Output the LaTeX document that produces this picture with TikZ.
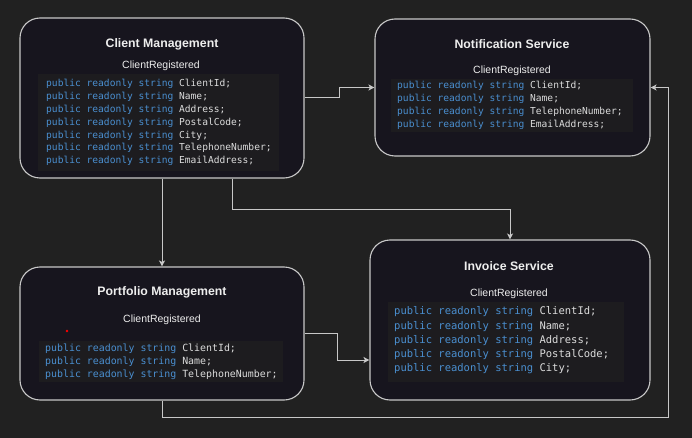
\documentclass[tikz,border=0pt]{standalone}
\usepackage{fontspec}
\setmainfont{Liberation Sans}
\newfontfamily\codefont{DejaVu Sans Mono}
\usetikzlibrary{arrows.meta,calc}
\definecolor{bgc}{HTML}{212121}
\definecolor{boxfill}{HTML}{17151E}
\definecolor{boxline}{HTML}{C8C8C8}
\definecolor{codebg}{HTML}{1D1C1F}
\definecolor{kwc}{HTML}{4A8FD0}
\definecolor{idc}{HTML}{DCDCDC}
\definecolor{txc}{HTML}{EEEEEE}
\newcommand\pubro{\textcolor{kwc}{public readonly string}}
\tikzset{
  svc/.style={draw=boxline, line width=1.1pt, fill=boxfill, rounded corners=20pt, inner sep=0pt},
  ttl/.style={text=txc, font=\bfseries\fontsize{12.3}{14}\selectfont, inner sep=0pt},
  sub/.style={text=txc, font=\fontsize{10.5}{12}\selectfont, inner sep=0pt},
  codebox/.style={fill=codebg, draw=none, inner sep=0pt},
  codeline/.style={text=idc, inner sep=0pt, anchor=base west},
  conn/.style={draw=boxline, line width=1pt, -{Stealth[length=6pt,width=6pt,inset=1.5pt]}},
}
\begin{document}
\begin{tikzpicture}[x=1pt,y=-1pt]
\useasboundingbox[fill=bgc] (0,0) rectangle (692,438);

% Client Management
\node[svc, minimum width=284pt, minimum height=160pt] (cm) at (162,98) {};
\node[ttl] (cmT) at (162,44) {Client Management};
\node[sub] (cmS) at (161,66) {ClientRegistered};
\node[codebox, minimum width=241pt, minimum height=97pt] (cmC) at (158.5,122.5) {};
\foreach \f [count=\i] in {ClientId;,Name;,Address;,PostalCode;,City;,TelephoneNumber;,EmailAddress;}
  \node[codeline, font=\codefont\fontsize{9.6}{12}\selectfont] (cmL\i) at (46,{86.5+12.9*(\i-1)}) {\pubro{} \f};

% Notification Service
\node[svc, minimum width=275pt, minimum height=137pt] (ns) at (512.5,87.5) {};
\node[ttl] (nsT) at (512,44) {Notification Service};
\node[sub] (nsS) at (512,71) {ClientRegistered};
\node[codebox, minimum width=242pt, minimum height=53pt] (nsC) at (512,105.5) {};
\foreach \f [count=\i] in {ClientId;,Name;,TelephoneNumber;,EmailAddress;}
  \node[codeline, font=\codefont\fontsize{9.6}{12}\selectfont] (nsL\i) at (397,{88.5+12.9*(\i-1)}) {\pubro{} \f};

% Portfolio Management
\node[svc, minimum width=284pt, minimum height=133pt] (pm) at (162,333.5) {};
\node[ttl] (pmT) at (162,292) {Portfolio Management};
\node[sub] (pmS) at (162,320) {ClientRegistered};
\node[codebox, minimum width=244pt, minimum height=41pt] (pmC) at (161,361.5) {};
\foreach \f [count=\i] in {ClientId;,Name;,TelephoneNumber;}
  \node[codeline, font=\codefont\fontsize{9.9}{12}\selectfont] (pmL\i) at (45,{351.5+13.2*(\i-1)}) {\pubro{} \f};
\fill[red] (67,331) circle (1.3pt);

% Invoice Service
\node[svc, minimum width=280pt, minimum height=160pt] (is) at (510,320) {};
\node[ttl] (isT) at (509,266) {Invoice Service};
\node[sub] (isS) at (509,294) {ClientRegistered};
\node[codebox, minimum width=236pt, minimum height=80pt] (isC) at (506,342) {};
\foreach \f [count=\i] in {ClientId;,Name;,Address;,PostalCode;,City;}
  \node[codeline, font=\codefont\fontsize{10.5}{12}\selectfont] (isL\i) at (394,{314.8+14.2*(\i-1)}) {\pubro{} \f};

% Connectors
\draw[conn] (cm.east) -- ++(35,0) |- (ns.west);
\draw[conn] (cm.south) -- (pm.north);
\draw[conn] ([xshift=70pt]cm.south) -- ++(0,31) -| (is.north);
\draw[conn] (pm.south) -- ++(0,17) -| ($(ns.east)+(18,0)$) -- (ns.east);
\draw[conn] (pm.east) -- ++(33,0) |- ([yshift=-40pt]is.west);
\end{tikzpicture}
\end{document}
